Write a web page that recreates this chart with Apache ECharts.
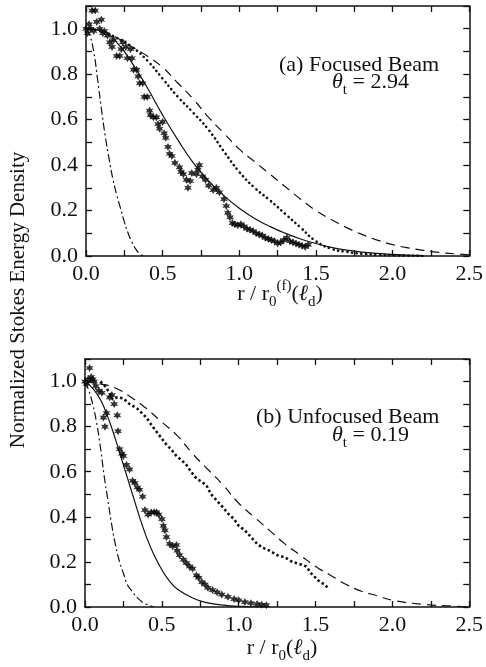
<!DOCTYPE html>
<html><head><meta charset="utf-8">
<script src="https://cdn.jsdelivr.net/npm/echarts@6/dist/echarts.min.js"></script>
<style>html,body{margin:0;padding:0;background:#fff}#c{width:486px;height:667px}</style>
</head><body><div id="c"></div>
<script>
// ---- tick labels ----
const xTickLabels = ['0.0', '0.5', '1.0', '1.5', '2.0', '2.5'];
const yTickLabels = ['0.0', '0.2', '0.4', '0.6', '0.8', '1.0'];

// ---- panel (a): focused beam ----
const aDashDot = [[0,1.0],[0.025,0.97],[0.05,0.90],[0.075,0.78],[0.1,0.65],[0.125,0.53],[0.15,0.43],[0.175,0.34],[0.2,0.27],[0.225,0.21],[0.25,0.15],[0.275,0.10],[0.3,0.06],[0.325,0.03],[0.35,0.01],[0.375,0]];
const aSolid = [[0,1.0],[0.1,0.99],[0.2,0.94],[0.3,0.85],[0.4,0.74],[0.5,0.62],[0.6,0.51],[0.7,0.41],[0.8,0.33],[0.9,0.265],[1.0,0.21],[1.1,0.165],[1.2,0.13],[1.3,0.10],[1.4,0.075],[1.5,0.055],[1.6,0.038],[1.7,0.026],[1.8,0.017],[2.0,0.007],[2.2,0.002]];
const aDotted = [[0,1.0],[0.1,0.99],[0.2,0.96],[0.3,0.92],[0.4,0.86],[0.5,0.78],[0.6,0.70],[0.7,0.63],[0.8,0.555],[0.9,0.46],[1.0,0.37],[1.1,0.30],[1.2,0.245],[1.3,0.185],[1.4,0.125],[1.5,0.065],[1.6,0.032],[1.7,0.018],[1.8,0.01],[1.9,0.006],[2.0,0.003],[2.2,0]];
const aDashed = [[0,1.0],[0.1,0.99],[0.2,0.96],[0.3,0.92],[0.4,0.88],[0.5,0.83],[0.6,0.76],[0.7,0.69],[0.8,0.61],[0.9,0.54],[1.0,0.47],[1.1,0.415],[1.2,0.36],[1.3,0.305],[1.4,0.25],[1.5,0.20],[1.6,0.16],[1.7,0.125],[1.8,0.095],[1.9,0.07],[2.0,0.05],[2.1,0.036],[2.2,0.025],[2.3,0.016],[2.4,0.01],[2.5,0.005]];
const aStars = [[0.0,1.0],[0.01,0.98],[0.02,1.02],[0.03,1.0],[0.04,1.08],[0.06,1.08],[0.05,0.99],[0.07,1.03],[0.09,1.0],[0.1,1.04],[0.11,0.98],[0.12,0.99],[0.14,0.97],[0.155,0.94],[0.17,0.92],[0.18,0.95],[0.2,0.88],[0.22,0.88],[0.23,0.91],[0.24,0.94],[0.26,0.92],[0.27,0.87],[0.29,0.91],[0.3,0.87],[0.31,0.82],[0.33,0.82],[0.34,0.79],[0.35,0.76],[0.37,0.76],[0.38,0.70],[0.40,0.70],[0.415,0.64],[0.42,0.62],[0.44,0.61],[0.46,0.61],[0.47,0.58],[0.48,0.56],[0.5,0.59],[0.51,0.54],[0.52,0.52],[0.535,0.48],[0.545,0.45],[0.56,0.44],[0.58,0.41],[0.61,0.39],[0.62,0.37],[0.635,0.36],[0.655,0.335],[0.665,0.30],[0.68,0.33],[0.69,0.365],[0.72,0.36],[0.73,0.38],[0.74,0.40],[0.76,0.35],[0.78,0.335],[0.8,0.31],[0.83,0.29],[0.85,0.30],[0.87,0.28],[0.9,0.25],[0.915,0.22],[0.925,0.19],[0.94,0.17],[0.955,0.145],[0.97,0.14],[0.99,0.135],[1.01,0.14],[1.03,0.13],[1.05,0.12],[1.07,0.115],[1.09,0.11],[1.11,0.10],[1.13,0.095],[1.15,0.09],[1.17,0.08],[1.19,0.075],[1.21,0.07],[1.23,0.065],[1.25,0.055],[1.27,0.06],[1.29,0.07],[1.31,0.08],[1.33,0.065],[1.35,0.06],[1.37,0.055],[1.39,0.05],[1.41,0.045],[1.43,0.04],[1.45,0.05]];

// ---- panel (b): unfocused beam ----
const bDashDot = [[0,1.0],[0.025,0.96],[0.05,0.90],[0.075,0.82],[0.1,0.71],[0.125,0.58],[0.15,0.47],[0.175,0.36],[0.2,0.27],[0.225,0.20],[0.25,0.15],[0.275,0.10],[0.3,0.075],[0.35,0.035],[0.4,0.012],[0.45,0]];
const bSolid = [[0,1.0],[0.05,0.97],[0.1,0.92],[0.15,0.84],[0.2,0.74],[0.25,0.63],[0.3,0.52],[0.35,0.41],[0.4,0.31],[0.45,0.23],[0.5,0.165],[0.55,0.115],[0.6,0.08],[0.7,0.04],[0.8,0.018],[0.9,0.008],[1.0,0.003],[1.2,0]];
const bDotted = [[0.1,1.0],[0.13,0.98],[0.16,0.95],[0.18,0.92],[0.21,0.93],[0.25,0.925],[0.29,0.90],[0.34,0.88],[0.37,0.86],[0.40,0.84],[0.44,0.80],[0.485,0.76],[0.53,0.72],[0.56,0.70],[0.595,0.67],[0.63,0.65],[0.66,0.63],[0.69,0.60],[0.725,0.57],[0.76,0.555],[0.79,0.54],[0.82,0.50],[0.86,0.47],[0.9,0.44],[0.93,0.415],[0.97,0.39],[1.0,0.36],[1.04,0.34],[1.08,0.31],[1.12,0.28],[1.15,0.265],[1.2,0.25],[1.25,0.23],[1.3,0.22],[1.35,0.20],[1.4,0.19],[1.44,0.18],[1.47,0.15],[1.5,0.13],[1.53,0.11],[1.56,0.10],[1.58,0.085]];
const bDashed = [[0,1.0],[0.1,0.99],[0.2,0.97],[0.3,0.93],[0.4,0.88],[0.5,0.82],[0.6,0.76],[0.7,0.68],[0.8,0.61],[0.9,0.54],[1.0,0.46],[1.1,0.40],[1.2,0.34],[1.3,0.28],[1.4,0.23],[1.5,0.18],[1.6,0.14],[1.7,0.10],[1.8,0.07],[1.9,0.05],[2.0,0.03],[2.2,0.012],[2.4,0.004],[2.5,0]];
const bStars = [[0.0,1.0],[0.01,0.99],[0.02,1.01],[0.03,1.06],[0.04,1.02],[0.05,1.01],[0.06,1.0],[0.07,0.98],[0.09,0.96],[0.11,0.95],[0.12,0.84],[0.13,0.80],[0.14,0.86],[0.16,0.93],[0.175,0.94],[0.19,0.90],[0.21,0.85],[0.215,0.78],[0.225,0.70],[0.24,0.68],[0.25,0.67],[0.27,0.63],[0.29,0.61],[0.31,0.56],[0.325,0.55],[0.34,0.53],[0.355,0.52],[0.375,0.49],[0.39,0.43],[0.41,0.41],[0.43,0.42],[0.45,0.42],[0.465,0.42],[0.48,0.41],[0.5,0.39],[0.51,0.36],[0.52,0.34],[0.53,0.31],[0.55,0.28],[0.57,0.27],[0.595,0.275],[0.6,0.25],[0.615,0.23],[0.64,0.21],[0.66,0.195],[0.68,0.18],[0.70,0.17],[0.725,0.14],[0.74,0.13],[0.76,0.11],[0.78,0.10],[0.8,0.085],[0.83,0.075],[0.86,0.065],[0.89,0.055],[0.93,0.045],[0.97,0.035],[1.0,0.03],[1.04,0.022],[1.08,0.017],[1.12,0.013],[1.15,0.01],[1.18,0.008]];

const FONT = '"Liberation Serif", "Times New Roman", serif';
const INK = '#111';
const STAR = 'path://M0,-10 L3,-4 L8.7,-5 L5,0 L8.7,5 L3,4 L0,10 L-3,4 L-8.7,5 L-5,0 L-8.7,-5 L-3,-4 Z';

function xAx(grid, pos) {
  return {
    type: 'value', gridIndex: grid, position: pos, min: 0, max: 2.5, interval: 0.25,
    axisLine: { show: true, onZero: false, lineStyle: { color: INK, width: 1.5 } },
    axisTick: { show: true, inside: true, length: 6, lineStyle: { color: INK, width: 1.3 } },
    splitLine: { show: false },
    axisLabel: pos === 'bottom' ? {
      show: true, margin: 7, color: INK, fontFamily: FONT, fontSize: 22,
      formatter: v => { const i = Math.round(v * 4); return i % 2 === 0 ? xTickLabels[i / 2] : ''; }
    } : { show: false }
  };
}
function yAx(grid, pos) {
  return {
    type: 'value', gridIndex: grid, position: pos, min: 0, max: 1.1, interval: 0.1,
    axisLine: { show: true, onZero: false, lineStyle: { color: INK, width: 1.5 } },
    axisTick: { show: true, inside: true, length: 6, lineStyle: { color: INK, width: 1.3 } },
    splitLine: { show: false },
    axisLabel: pos === 'left' ? {
      show: true, margin: 8, color: INK, fontFamily: FONT, fontSize: 22,
      formatter: v => { const i = Math.round(v * 10); return (i % 2 === 0 && i <= 10) ? yTickLabels[i / 2] : ''; }
    } : { show: false }
  };
}
function line(data, xi, style, smooth) {
  return { type: 'line', data, xAxisIndex: xi, yAxisIndex: xi, showSymbol: false, symbol: 'none',
    smooth: smooth, silent: true, lineStyle: Object.assign({ color: INK, width: 1.2 }, style) };
}
function stars(data, xi) {
  return { type: 'scatter', data, xAxisIndex: xi, yAxisIndex: xi, symbol: STAR, symbolSize: 8,
    itemStyle: { color: '#000' }, silent: true };
}

const rich = {
  s: { fontFamily: FONT, fontSize: 15, verticalAlign: 'bottom', lineHeight: 31 },
  p: { fontFamily: FONT, fontSize: 15, verticalAlign: 'top', lineHeight: 31 },
  i: { fontFamily: FONT, fontSize: 22, fontStyle: 'italic', lineHeight: 31 },
  n: { fontFamily: FONT, fontSize: 22, lineHeight: 31 }
};

const chart = echarts.init(document.getElementById('c'), null, { renderer: 'canvas' });
chart.setOption({
  animation: false,
  backgroundColor: '#fff',
  grid: [
    { left: 86, top: 6, width: 386, height: 250 },
    { left: 85, top: 359, width: 386, height: 248 }
  ],
  xAxis: [xAx(0, 'bottom'), xAx(1, 'bottom'), xAx(0, 'top'), xAx(1, 'top')],
  yAxis: [yAx(0, 'left'), yAx(1, 'left'), yAx(0, 'right'), yAx(1, 'right')],
  series: [
    line(aDashDot, 0, { type: [8, 3, 2, 3] }, true),
    line(aSolid, 0, {}, true),
    line(aDotted, 0, { type: [0.1, 4.6], cap: 'round', width: 2.6 }, true),
    line(aDashed, 0, { type: [9, 6] }, true),
    stars(aStars, 0),
    line(bDashDot, 1, { type: [8, 3, 2, 3] }, true),
    line(bSolid, 1, {}, true),
    line(bDotted, 1, { type: [2.5, 2.5], width: 2.6 }, false),
    line(bDashed, 1, { type: [9, 6] }, true),
    stars(bStars, 1)
  ],
  graphic: [
    { type: 'text', left: 279, top: 54, style: { text: '(a) Focused Beam', font: '22px ' + FONT, fill: INK } },
    { type: 'text', left: 332, top: 71, style: { text: '{i|θ}{s|t}{n| = 2.94}', rich, fill: INK } },
    { type: 'text', left: 256, top: 406, style: { text: '(b) Unfocused Beam', font: '22px ' + FONT, fill: INK } },
    { type: 'text', left: 332, top: 424, style: { text: '{i|θ}{s|t}{n| = 0.19}', rich, fill: INK } },
    { type: 'text', x: 280, y: 294, style: { text: '{n|r / r}{s|0}{p|(f)}{n|(}{i|ℓ}{s|d}{n|)}', rich, fill: INK, align: 'center', verticalAlign: 'middle' } },
    { type: 'text', x: 282, y: 648, style: { text: '{n|r / r}{s|0}{n|(}{i|ℓ}{s|d}{n|)}', rich, fill: INK, align: 'center', verticalAlign: 'middle' } },
    { type: 'text', x: 18, y: 300, rotation: Math.PI / 2, style: { text: 'Normalized Stokes Energy Density', font: '21px ' + FONT, fill: INK, align: 'center', verticalAlign: 'middle' } }
  ]
});
</script></body></html>
